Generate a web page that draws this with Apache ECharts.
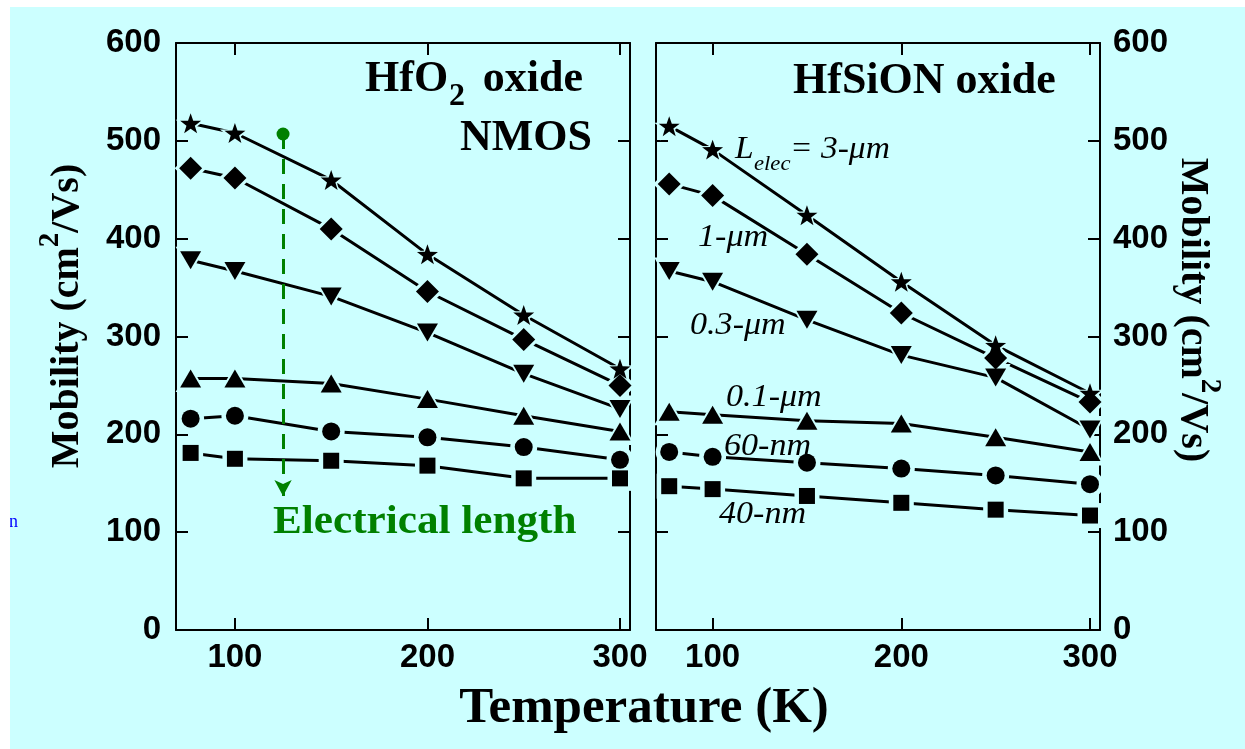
<!DOCTYPE html>
<html>
<head>
<meta charset="utf-8">
<title>Mobility vs Temperature</title>
<script src="https://cdn.jsdelivr.net/npm/echarts@6/dist/echarts.min.js"></script>
<style>
  html, body { margin: 0; padding: 0; background: #ffffff; }
  #chart { width: 1245px; height: 749px; }
</style>
</head>
<body>
<div id="chart"></div>
<script>
// temperature points (K)
const temps = [77, 100, 150, 200, 250, 300]
const xTicks = [100, 200, 300]

// HfO2 oxide, NMOS (left panel), cm2/Vs
const hfo2_3um = [518, 508, 460, 384, 322, 267]
const hfo2_1um = [472, 462, 410, 346, 297, 250]
const hfo2_03um = [378, 367, 341, 304, 262, 226]
const hfo2_01um = [257, 257, 252, 236, 219, 203]
const hfo2_60nm = [216, 219, 203, 197, 187, 174]
const hfo2_40nm = [181, 175, 173, 168, 155, 155]

// HfSiON oxide (right panel), cm2/Vs
const hfsion_3um = [515, 491, 424, 356, 291, 242]
const hfsion_1um = [456, 444, 384, 324, 278, 233]
const hfsion_03um = [367, 356, 317, 281, 258, 205]
const hfsion_01um = [223, 220, 214, 211, 197, 182]
const hfsion_60nm = [182, 177, 171, 165, 158, 149]
const hfsion_40nm = [147, 144, 137, 130, 123, 117]

const BG = '#ccffff'
const SANS = '"Liberation Sans", Arial, sans-serif'
const SERIF = '"Liberation Serif", "Times New Roman", serif'
const GREEN = '#008000'

const STAR = 'path://M50,0 L61.8,33.8 L97.6,34.5 L69,56.2 L79.4,90.5 L50,70 L20.6,90.5 L31,56.2 L2.4,34.5 L38.2,33.8 Z'
// marker per electrical length, top to bottom
const markers = [
  { symbol: STAR, size: 21, rotate: 0 },
  { symbol: 'diamond', size: [23, 23], rotate: 0 },
  { symbol: 'triangle', size: [21, 18], rotate: 180 },
  { symbol: 'triangle', size: [21, 18], rotate: 0 },
  { symbol: 'circle', size: 18, rotate: 0 },
  { symbol: 'rect', size: 16, rotate: 0 },
]

const panels = [
  { xAxisIndex: 0, yAxisIndex: 0, sets: [hfo2_3um, hfo2_1um, hfo2_03um, hfo2_01um, hfo2_60nm, hfo2_40nm] },
  { xAxisIndex: 2, yAxisIndex: 3, sets: [hfsion_3um, hfsion_1um, hfsion_03um, hfsion_01um, hfsion_60nm, hfsion_40nm] },
]

const grow = (s, d) => Array.isArray(s) ? [s[0] + d, s[1] + d] : s + d

const series = []
panels.forEach(p => {
  p.sets.forEach((vals, k) => {
    const pts = temps.map((t, i) => [t, vals[i]])
    const m = markers[k]
    series.push({
      type: 'line', xAxisIndex: p.xAxisIndex, yAxisIndex: p.yAxisIndex,
      data: pts, showSymbol: false, symbol: 'none', z: 2,
      lineStyle: { color: '#000', width: 3 },
    })
    // cyan halo so the line stops short of each marker
    series.push({
      type: 'scatter', xAxisIndex: p.xAxisIndex, yAxisIndex: p.yAxisIndex,
      data: pts, symbol: m.symbol, symbolSize: grow(m.size, 9), symbolRotate: m.rotate,
      symbolKeepAspect: true, z: 3, itemStyle: { color: BG, opacity: 1 },
    })
    series.push({
      type: 'scatter', xAxisIndex: p.xAxisIndex, yAxisIndex: p.yAxisIndex,
      data: pts, symbol: m.symbol, symbolSize: m.size, symbolRotate: m.rotate,
      symbolKeepAspect: true, z: 4, itemStyle: { color: '#000', opacity: 1 },
    })
  })
})

// green "electrical length" arrow in the left panel
series[0].markLine = {
  silent: true,
  symbol: ['circle', 'arrow'],
  symbolSize: [13, 16],
  label: { show: false },
  lineStyle: { color: GREEN, width: 3, type: [15, 10], opacity: 1 },
  data: [[{ coord: [125, 507] }, { coord: [125, 137] }]],
}

const axisLine = { onZero: false, lineStyle: { color: '#000', width: 2 } }
const tickLabel = { color: '#000', fontFamily: SANS, fontWeight: 'bold', fontSize: 33 }

function xAxis(grid, min, max, pos, labels) {
  return {
    gridIndex: grid, type: 'value', min, max, position: pos,
    axisLine,
    axisTick: { inside: true, length: 12, customValues: xTicks, lineStyle: { color: '#000', width: 2 } },
    axisLabel: labels ? { ...tickLabel, customValues: xTicks, margin: 11 } : { show: false },
    splitLine: { show: false },
  }
}

function yAxis(grid, pos, labels, margin) {
  return {
    gridIndex: grid, type: 'value', min: 0, max: 600, interval: 100, position: pos,
    axisLine: { show: true, ...axisLine },
    axisTick: { show: true, inside: true, length: 12, lineStyle: { color: '#000', width: 2 } },
    axisLabel: labels ? { ...tickLabel, margin } : { show: false },
    splitLine: { show: false },
  }
}

const titleFont = size => `bold ${size}px ${SERIF}`
const italicFont = size => `italic ${size}px ${SERIF}`

function txt(x, y, text, font, fill, align, sx) {
  return {
    type: 'text', x, y, z: 10, scaleX: sx || 1,
    style: { text, font, fill: fill || '#000', textAlign: align || 'left', textVerticalAlign: 'middle' },
  }
}

const yTitleRich = {
  text: '{m|Mobility (cm}{sup|2}{m|/Vs)}',
  fill: '#000', textAlign: 'center', textVerticalAlign: 'middle',
  rich: {
    m: { font: titleFont(40), fill: '#000', verticalAlign: 'bottom' },
    sup: { font: titleFont(29), fill: '#000', verticalAlign: 'top', padding: [0, 0, 22, 0] },
  },
}

const chart = echarts.init(document.getElementById('chart'))
chart.setOption({
  backgroundColor: BG,
  animation: false,
  grid: [
    { left: 176, top: 43, width: 454, height: 587 },
    { left: 656, top: 43, width: 444, height: 587 },
  ],
  xAxis: [
    xAxis(0, 69.4, 305.2, 'bottom', true),
    xAxis(0, 69.4, 305.2, 'top', false),
    xAxis(1, 70, 305.3, 'bottom', true),
    xAxis(1, 70, 305.3, 'top', false),
  ],
  yAxis: [
    yAxis(0, 'left', true, 15),
    yAxis(0, 'right', false),
    yAxis(1, 'left', false),
    yAxis(1, 'right', true, 13),
  ],
  series,
  graphic: [
    { type: 'rect', shape: { x: 0, y: 0, width: 1245, height: 7 }, style: { fill: '#fff' }, z: 20 },
    { type: 'rect', shape: { x: 0, y: 0, width: 10, height: 749 }, style: { fill: '#fff' }, z: 20 },
    txt(9, 522, 'n', `18px ${SERIF}`, '#0000ff'),
    // panel titles
    txt(365, 80, 'HfO', titleFont(44)),
    txt(449, 97, '2', titleFont(32)),
    txt(583, 80, 'oxide', titleFont(44), null, 'right'),
    txt(592, 139, 'NMOS', titleFont(44), null, 'right'),
    txt(793, 82, 'HfSiON oxide', titleFont(44)),
    txt(273, 523, 'Electrical length', titleFont(40), GREEN, 'left', 1.08),
    txt(644, 709, 'Temperature (K)', titleFont(51), null, 'center'),
    // axis titles
    { type: 'text', x: 62, y: 316, rotation: Math.PI / 2, z: 10, style: yTitleRich },
    { type: 'text', x: 1198, y: 310, rotation: -Math.PI / 2, z: 10, style: yTitleRich },
    // electrical length labels
    txt(735, 150, 'L', italicFont(31), null, 'left', 1.08),
    txt(754, 164, 'elec', italicFont(21), null, 'left', 1.08),
    txt(790, 150, '= 3-\u03bcm', italicFont(31), null, 'left', 1.08),
    txt(698, 238, '1-\u03bcm', italicFont(31), null, 'left', 1.1),
    txt(690, 326, '0.3-\u03bcm', italicFont(31), null, 'left', 1.1),
    txt(726, 398, '0.1-\u03bcm', italicFont(31), null, 'left', 1.1),
    txt(724, 447, '60-nm', italicFont(31), null, 'left', 1.1),
    txt(719, 515, '40-nm', italicFont(31), null, 'left', 1.1),
  ],
})
</script>
</body>
</html>
